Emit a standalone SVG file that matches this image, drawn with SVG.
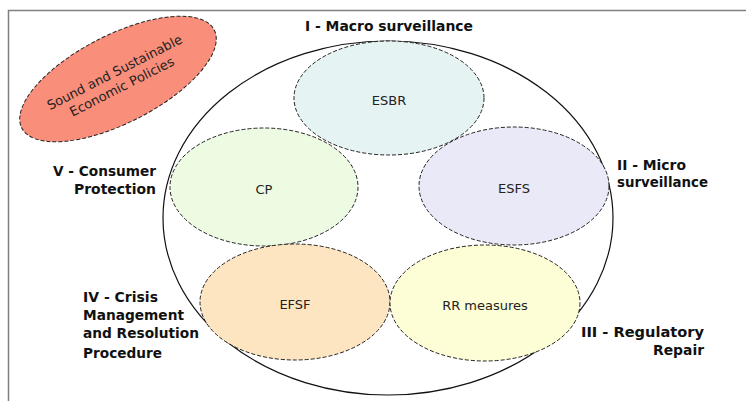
<svg xmlns="http://www.w3.org/2000/svg" width="746" height="401" viewBox="0 0 746 401">
<style>
.frame{fill:none;stroke:#808080;stroke-width:1.5}
.sub{stroke:#222;stroke-width:1;stroke-dasharray:4 2}
.big{fill:none;stroke:#111;stroke-width:1.2}
.in{font-family:"DejaVu Sans",sans-serif;font-size:13px;fill:#222;text-anchor:middle}
.lab{font-family:"DejaVu Sans",sans-serif;font-size:13.5px;font-weight:bold;fill:#111}
</style>
<rect width="746" height="401" fill="#fff"/>
<path class="frame" d="M8.5 401 V10.5 H746"/>
<g id="policies">
<ellipse cx="118" cy="79" rx="108" ry="44" transform="rotate(-27 118 79)" fill="#F98E7B" class="sub"/>
<text class="in" transform="translate(118 79) rotate(-27)"><tspan x="0" y="-3">Sound and Sustainable</tspan><tspan x="0" y="13">Economic Policies</tspan></text>
</g>
<g id="outer">
<ellipse cx="388" cy="218" rx="225" ry="177" class="big"/>
</g>
<g id="esbr">
<ellipse cx="389" cy="98" rx="95" ry="57" fill="#E6F3F3" class="sub"/>
<text class="in" x="389" y="105">ESBR</text>
</g>
<g id="cp">
<ellipse cx="264" cy="187" rx="94" ry="59" fill="#EDFBE3" class="sub"/>
<text class="in" x="264" y="194">CP</text>
</g>
<g id="esfs">
<ellipse cx="514" cy="186" rx="95" ry="59" fill="#E9E9F7" class="sub"/>
<text class="in" x="514" y="193">ESFS</text>
</g>
<g id="efsf">
<ellipse cx="295" cy="302" rx="95" ry="58" fill="#FDE5C1" class="sub"/>
<text class="in" x="295" y="309">EFSF</text>
</g>
<g id="rr">
<ellipse cx="485" cy="303" rx="95" ry="58" fill="#FDFDD6" class="sub"/>
<text class="in" x="485" y="310">RR measures</text>
</g>
<g id="labels">
<text class="lab" x="305" y="31" textLength="168" lengthAdjust="spacingAndGlyphs">I - Macro surveillance</text>
<text class="lab" x="617" y="170" textLength="69" lengthAdjust="spacingAndGlyphs">II - Micro</text>
<text class="lab" x="617" y="187" textLength="91" lengthAdjust="spacingAndGlyphs">surveillance</text>
<text class="lab" x="581" y="337" textLength="123" lengthAdjust="spacingAndGlyphs">III - Regulatory</text>
<text class="lab" x="653" y="355" textLength="51" lengthAdjust="spacingAndGlyphs">Repair</text>
<text class="lab" x="83" y="302" textLength="75" lengthAdjust="spacingAndGlyphs">IV - Crisis</text>
<text class="lab" x="83" y="320" textLength="101" lengthAdjust="spacingAndGlyphs">Management</text>
<text class="lab" x="83" y="338" textLength="116" lengthAdjust="spacingAndGlyphs">and Resolution</text>
<text class="lab" x="83" y="358" textLength="79" lengthAdjust="spacingAndGlyphs">Procedure</text>
<text class="lab" x="53" y="176" textLength="103" lengthAdjust="spacingAndGlyphs">V - Consumer</text>
<text class="lab" x="74" y="194" textLength="82" lengthAdjust="spacingAndGlyphs">Protection</text>
</g>
</svg>
